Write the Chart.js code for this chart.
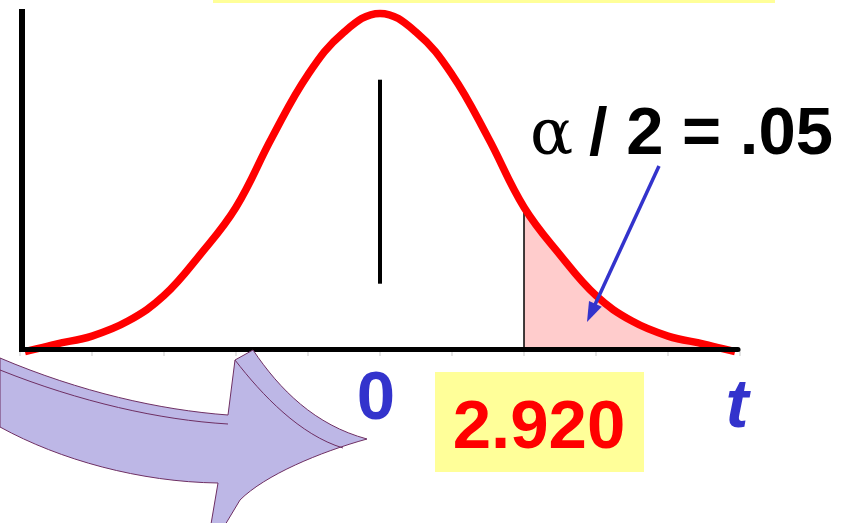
<!DOCTYPE html>
<html>
<head>
<meta charset="utf-8">
<script src="https://cdn.jsdelivr.net/npm/chart.js@4.4.0/dist/chart.umd.min.js"></script>
<style>
body{margin:0;background:#fff}
#wrap{width:851px;height:523px;position:relative}
</style>
</head>
<body>
<div id="wrap"><canvas id="myChart"></canvas></div>
<script>
// t values along the curve and the height of the density at each one
var tValues = [-7.2, -6.57, -5.84, -5.11, -4.38, -3.65, -2.92, -2.19, -1.46, -0.73, 0, 0.73, 1.46, 2.19, 2.92, 3.65, 4.38, 5.11, 5.84, 6.57, 7.2];
var density = [-0.001, 0.0035, 0.0082, 0.017, 0.032, 0.056, 0.084, 0.125, 0.162, 0.187, 0.198, 0.187, 0.162, 0.125, 0.084, 0.056, 0.032, 0.017, 0.0082, 0.0035, -0.001];
var critical = 2.920;
var criticalLabel = '2.920';
var alphaLabel = '/ 2 = .05';
var centreMark = [0.039, 0.159];   // short bar at t = 0
var tickStep = 1.46;
var tRange = [-7.3, 7.3];

function pts(xs, ys) {
    return xs.map(function (x, i) { return {x: x, y: ys[i]}; });
}
var curve = pts(tValues, density);
var tail = curve.filter(function (p) { return p.x >= critical; });

var BLUE = '#3333CC';

var extras = {
    id: 'extras',
    afterDatasetsDraw: function (chart) {
        var ctx = chart.ctx, a = chart.chartArea;
        ctx.save();
        // axes
        ctx.fillStyle = '#000';
        ctx.fillRect(a.left - 1, a.top - 1, 6, a.bottom - a.top + 3);
        ctx.strokeStyle = '#000';
        ctx.lineWidth = 5;
        ctx.lineCap = 'round';
        ctx.beginPath();
        ctx.moveTo(a.left + 3, a.bottom - 0.5);
        ctx.lineTo(a.right - 2, a.bottom - 0.5);
        ctx.stroke();
        ctx.restore();
    },
    afterDraw: function (chart) {
        var ctx = chart.ctx, x = chart.scales.x;
        ctx.save();

        // yellow strip at top
        ctx.fillStyle = '#FFFF99';
        ctx.fillRect(213, 0, 562, 3);

        // big curved arrow
        ctx.fillStyle = '#BDB7E6';
        ctx.strokeStyle = '#6E2F63';
        ctx.lineWidth = 1;
        ctx.beginPath();
        ctx.moveTo(0, 358);
        ctx.bezierCurveTo(80, 392, 160, 410, 228, 415);
        ctx.lineTo(235, 360);
        ctx.lineTo(253, 350);
        ctx.bezierCurveTo(280, 390, 315, 425, 367, 439);
        ctx.bezierCurveTo(320, 452, 265, 475, 240, 500);
        ctx.lineTo(222, 530);
        ctx.lineTo(210, 530);
        ctx.lineTo(218, 483);
        ctx.bezierCurveTo(140, 482, 60, 460, 0, 427);
        ctx.closePath();
        ctx.fill();
        ctx.stroke();
        ctx.beginPath();
        ctx.moveTo(0, 370);
        ctx.bezierCurveTo(80, 402, 160, 420, 228, 424);
        ctx.stroke();
        ctx.beginPath();
        ctx.moveTo(235, 360);
        ctx.bezierCurveTo(262, 395, 300, 435, 343, 448);
        ctx.stroke();

        // axis labels
        ctx.textBaseline = 'alphabetic';
        ctx.textAlign = 'center';
        ctx.fillStyle = BLUE;
        ctx.font = 'bold 69px "Liberation Sans", Arial, sans-serif';
        ctx.fillText('0', x.getPixelForValue(0) - 4, 419);
        ctx.font = 'italic bold 69px "Liberation Sans", Arial, sans-serif';
        ctx.fillText('t', 737, 427);

        // critical value box
        var cx = x.getPixelForValue(critical);
        ctx.fillStyle = '#FFFF99';
        ctx.fillRect(cx - 89, 372, 209, 100);
        ctx.fillStyle = '#FF0000';
        ctx.font = 'bold 69px "Liberation Sans", Arial, sans-serif';
        ctx.fillText(criticalLabel, cx + 15, 448);

        // alpha / 2 label
        ctx.fillStyle = '#000';
        ctx.textAlign = 'left';
        ctx.font = '64px "DejaVu Serif", "Liberation Serif", serif';
        ctx.fillText('\u03b1', 530, 154);
        ctx.font = 'bold 67px "Liberation Sans", Arial, sans-serif';
        ctx.fillText(alphaLabel, 589, 154);

        // pointer to the shaded tail
        var x0 = 659, y0 = 166, x1 = 587, y1 = 322;
        var ang = Math.atan2(y1 - y0, x1 - x0);
        ctx.strokeStyle = BLUE;
        ctx.fillStyle = BLUE;
        ctx.lineWidth = 3.5;
        ctx.lineCap = 'butt';
        ctx.beginPath();
        ctx.moveTo(x0, y0);
        ctx.lineTo(x1 - 14 * Math.cos(ang), y1 - 14 * Math.sin(ang));
        ctx.stroke();
        ctx.beginPath();
        ctx.moveTo(x1, y1);
        ctx.lineTo(x1 - 20 * Math.cos(ang) + 7 * Math.sin(ang), y1 - 20 * Math.sin(ang) - 7 * Math.cos(ang));
        ctx.lineTo(x1 - 20 * Math.cos(ang) - 7 * Math.sin(ang), y1 - 20 * Math.sin(ang) + 7 * Math.cos(ang));
        ctx.closePath();
        ctx.fill();

        ctx.restore();
    }
};

var ctx = document.getElementById('myChart').getContext('2d');
var mychart = new Chart(ctx, {
    type: 'line',
    data: {
        datasets: [
            {
                data: curve,
                borderColor: '#FF0000',
                borderWidth: 7.5,
                pointRadius: 0,
                fill: false,
                tension: 0.4,
                clip: false,
                order: 0
            },
            {
                data: [{x: critical, y: 0}, {x: critical, y: tail[0].y}],
                borderColor: '#000',
                borderWidth: 1.5,
                pointRadius: 0,
                fill: false,
                order: 1
            },
            {
                data: [{x: 0, y: centreMark[0]}, {x: 0, y: centreMark[1]}],
                borderColor: '#000',
                borderWidth: 4,
                pointRadius: 0,
                fill: false,
                order: 1
            },
            {
                data: tail,
                backgroundColor: '#FFCCCC',
                borderWidth: 0,
                pointRadius: 0,
                fill: 'origin',
                tension: 0.4,
                order: 2
            }
        ]
    },
    options: {
        responsive: true,
        maintainAspectRatio: false,
        animation: false,
        layout: {
            padding: {left: 20, right: 111, top: 10, bottom: 173}
        },
        plugins: {
            legend: {display: false},
            tooltip: {enabled: false}
        },
        scales: {
            x: {
                type: 'linear',
                min: tRange[0],
                max: tRange[1],
                afterFit: function (scale) { scale.height = 0; },
                border: {display: false},
                grid: {
                    drawOnChartArea: false,
                    drawTicks: true,
                    tickLength: 6,
                    color: '#E4E4E4',
                    lineWidth: 2
                },
                ticks: {display: false, stepSize: tickStep}
            },
            y: {
                display: false,
                min: 0,
                max: 0.2
            }
        }
    },
    plugins: [extras]
});
</script>
</body>
</html>
